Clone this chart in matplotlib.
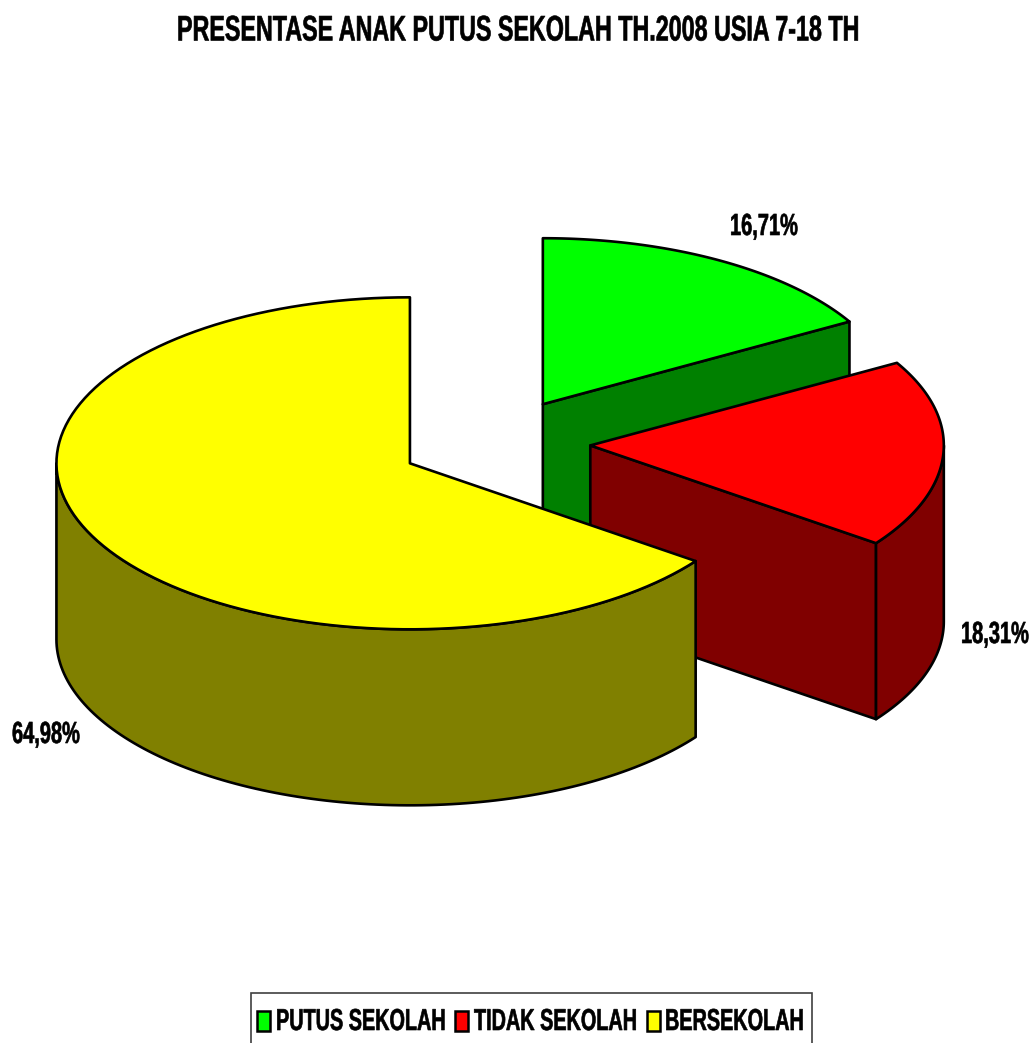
import numpy as np
import matplotlib
matplotlib.use("Agg")
import matplotlib.pyplot as plt
from matplotlib.patches import Polygon, Rectangle
from matplotlib.patheffects import AbstractPathEffect
from matplotlib.text import Text
from matplotlib.transforms import Affine2D, Bbox

labels = ["PUTUS SEKOLAH", "TIDAK SEKOLAH", "BERSEKOLAH"]
values = [16.71, 18.31, 64.98]
value_labels = ["16,71%", "18,31%", "64,98%"]
top_colors = ["#00ff00", "#ff0000", "#ffff00"]
side_colors = ["#008000", "#800000", "#808000"]
title = "PRESENTASE ANAK PUTUS SEKOLAH TH.2008 USIA 7-18 TH"

plt.rcParams["font.family"] = ["Liberation Sans", "DejaVu Sans"]

W, H = 1035, 1043
CX, CY = 495, 443
RX, RY = 353.5, 166
DEPTH = 176
EXPLODE = 0.27
SQUEEZE = 0.655


class Narrow(AbstractPathEffect):
    # no narrow bold font here, so squeeze the glyphs around the text's left edge
    def __init__(self, x_px, stroke=0.45):
        super().__init__()
        self.x_px, self.stroke = x_px, stroke

    def draw_path(self, renderer, gc, tpath, affine, rgbFace=None):
        squeeze = Affine2D().translate(-self.x_px, 0).scale(SQUEEZE, 1).translate(self.x_px, 0)
        gc0 = renderer.new_gc()
        gc0.copy_properties(gc)
        gc0.set_linewidth(self.stroke)
        gc0.set_foreground("black")
        renderer.draw_path(gc0, tpath, affine + squeeze, rgbFace)
        gc0.restore()


class NarrowText(Text):
    # report the squeezed width, not the full one
    def get_window_extent(self, renderer=None, dpi=None):
        bb = super().get_window_extent(renderer, dpi)
        return Bbox.from_extents(bb.x0, bb.y0, bb.x0 + bb.width * SQUEEZE, bb.y1)


def ring(a, b, n=120):
    t = np.radians(np.linspace(a, b, n))
    return np.sin(t), np.cos(t)


fig = plt.figure(figsize=(W / 100, H / 100), dpi=100)
ax = fig.add_axes([0, 0, 1, 1])
ax.set_xlim(0, W)
ax.set_ylim(H, 0)
ax.axis("off")


def face(xs, ys, color, z=1):
    ax.add_patch(Polygon(np.column_stack([xs, ys]), closed=True, fc=color, ec="black", lw=1.9, joinstyle="round", zorder=z))


def cut(x0, y0, ang, color):
    s, c = np.sin(np.radians(ang)), np.cos(np.radians(ang))
    x1, y1 = x0 + RX * s, y0 - RY * c
    face([x0, x1, x1, x0], [y0, y1, y1 + DEPTH, y0 + DEPTH], color)


def narrow_text(x, y, txt, size):
    # x is the left edge in pixels, y the vertical centre
    t = NarrowText(x, y, txt, fontsize=size, fontweight="bold", color="black", ha="left", va="center",
                   path_effects=[Narrow(x)], zorder=5)
    ax.add_artist(t)


start = 0.0
for val, top, side in zip(values, top_colors, side_colors):
    end = start + val * 3.6
    mid = np.radians((start + end) / 2)
    x0 = CX + EXPLODE * RX * np.sin(mid)
    y0 = CY - EXPLODE * RY * np.cos(mid)

    # only the walls that face the viewer
    if np.cos(np.radians(start - 90)) < -1e-6:
        cut(x0, y0, start, side)
    if np.cos(np.radians(end + 90)) < -1e-6:
        cut(x0, y0, end, side)
    a, b = max(start, 90), min(end, 270)
    if a < b:
        s, c = ring(a, b)
        xs = x0 + RX * s
        ys = y0 - RY * c
        face(np.r_[xs, xs[::-1]], np.r_[ys, ys[::-1] + DEPTH], side)

    s, c = ring(start, end)
    face(np.r_[x0, x0 + RX * s], np.r_[y0, y0 - RY * c], top)
    start = end

narrow_text(177, 31, title, 25.6)
narrow_text(730, 227, value_labels[0], 22)
narrow_text(961, 635, value_labels[1], 22)
narrow_text(12, 735, value_labels[2], 22)

# legend box runs off the bottom of the picture, as in the source
ax.add_patch(Rectangle((250.5, 993), 561, 70, fc="white", ec="#404040", lw=1.2, zorder=3))
for sq_x, txt_x, color, label in zip([257, 455, 647], [276, 474, 665], top_colors, labels):
    ax.add_patch(Rectangle((sq_x, 1011), 13, 20, fc=color, ec="black", lw=1.8, zorder=4))
    narrow_text(txt_x, 1022, label, 21.8)

fig.savefig("out.png", dpi=100)
